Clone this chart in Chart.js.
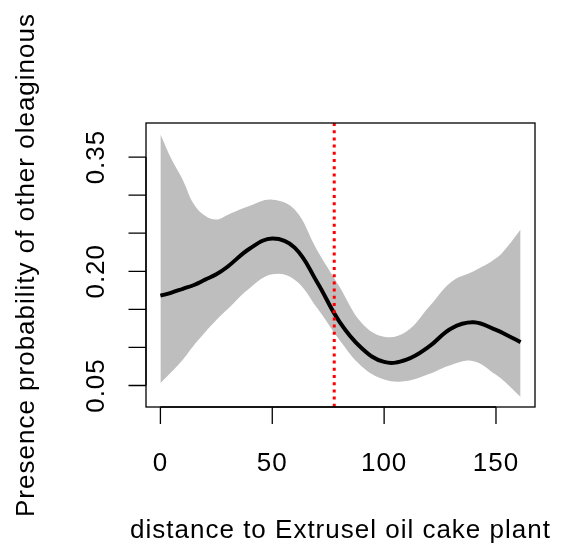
<!DOCTYPE html>
<html>
<head>
<meta charset="utf-8">
<script src="https://cdn.jsdelivr.net/npm/chart.js@4"></script>
<style>
  html, body { margin: 0; padding: 0; background: #fff; }
  #wrap { width: 561px; height: 547px; }
</style>
</head>
<body>
<div id="wrap"><canvas id="gamChart" width="561" height="547"></canvas></div>
<script>
// arvot luettu kuvasta
const distance = [0, 5, 10, 15, 20, 25, 30, 40, 50, 60, 70, 80, 90, 100, 110, 120, 130, 140, 150, 155, 161];
const fit   = [0.168, 0.172, 0.177, 0.182, 0.189, 0.196, 0.206, 0.230, 0.243, 0.231, 0.186, 0.134, 0.099, 0.081, 0.084, 0.101, 0.125, 0.133, 0.123, 0.116, 0.107];
const upper = [0.380, 0.347, 0.320, 0.288, 0.273, 0.268, 0.274, 0.286, 0.294, 0.281, 0.228, 0.180, 0.132, 0.114, 0.121, 0.153, 0.186, 0.200, 0.217, 0.232, 0.255];
const lower = [0.053, 0.068, 0.084, 0.103, 0.120, 0.136, 0.150, 0.178, 0.196, 0.189, 0.152, 0.110, 0.075, 0.058, 0.056, 0.065, 0.077, 0.082, 0.064, 0.052, 0.035];
const cutoff = 77.7;

const xTicks = [0, 50, 100, 150];
const yTicks = [0.05, 0.10, 0.15, 0.20, 0.25, 0.30, 0.35];
const yTickLabels = ['0.05', '', '', '0.20', '', '', '0.35'];
const xLim = [-6.44, 167.44];
const yLim = [0.0218, 0.3947];
const xTitle = 'distance to Extrusel oil cake plant';
const yTitle = 'Presence probability of other oleaginous';

const pts = ys => distance.map((d, i) => ({ x: d, y: ys[i] }));
const FONT = '26px "Liberation Sans", Arial, Helvetica, sans-serif';

// R-tyylinen laatikko ja akselit
const rAxes = {
  id: 'rAxes',
  afterDraw(chart) {
    const { ctx, chartArea: a, scales: { x, y } } = chart;
    ctx.save();
    ctx.strokeStyle = '#000';
    ctx.lineWidth = 1.3;
    ctx.strokeRect(a.left, a.top, a.right - a.left, a.bottom - a.top);

    ctx.beginPath();
    ctx.moveTo(x.getPixelForValue(xTicks[0]), a.bottom);
    ctx.lineTo(x.getPixelForValue(xTicks[xTicks.length - 1]), a.bottom);
    xTicks.forEach(v => {
      const px = x.getPixelForValue(v);
      ctx.moveTo(px, a.bottom);
      ctx.lineTo(px, a.bottom + 17);
    });
    ctx.moveTo(a.left, y.getPixelForValue(yTicks[0]));
    ctx.lineTo(a.left, y.getPixelForValue(yTicks[yTicks.length - 1]));
    yTicks.forEach(v => {
      const py = y.getPixelForValue(v);
      ctx.moveTo(a.left, py);
      ctx.lineTo(a.left - 17.5, py);
    });
    ctx.stroke();

    ctx.fillStyle = '#000';
    ctx.font = FONT;
    ctx.letterSpacing = '1px';
    ctx.textAlign = 'center';
    ctx.textBaseline = 'alphabetic';
    xTicks.forEach(v => {
      ctx.fillText(String(v), x.getPixelForValue(v), 470.5);
    });
    ctx.fillText(xTitle, (a.left + a.right) / 2, 538);

    yTicks.forEach((v, i) => {
      if (!yTickLabels[i]) return;
      ctx.save();
      ctx.translate(103.5, y.getPixelForValue(v));
      ctx.rotate(-Math.PI / 2);
      ctx.fillText(yTickLabels[i], 0, 0);
      ctx.restore();
    });
    ctx.save();
    ctx.translate(34, (a.top + a.bottom) / 2);
    ctx.rotate(-Math.PI / 2);
    ctx.fillText(yTitle, 0, 0);
    ctx.restore();
    ctx.restore();
  }
};

const ctx = document.getElementById('gamChart').getContext('2d');
new Chart(ctx, {
  type: 'line',
  data: {
    datasets: [
      {
        label: 'upper',
        data: pts(upper),
        borderWidth: 0,
        borderColor: 'rgba(0,0,0,0)',
        backgroundColor: '#BEBEBE',
        fill: '+1',
        order: 3
      },
      {
        label: 'lower',
        data: pts(lower),
        borderWidth: 0,
        borderColor: 'rgba(0,0,0,0)',
        fill: false,
        order: 3
      },
      {
        label: 'fit',
        data: pts(fit),
        borderColor: '#000',
        borderWidth: 4,
        fill: false,
        order: 1
      },
      {
        label: 'cutoff',
        data: [{ x: cutoff, y: yLim[1] }, { x: cutoff, y: yLim[0] }],
        borderColor: '#FF0000',
        borderWidth: 3,
        borderDash: [3, 4.2],
        fill: false,
        tension: 0,
        order: 0
      }
    ]
  },
  options: {
    responsive: false,
    animation: false,
    layout: { padding: { left: 146, right: 26, top: 123, bottom: 140 } },
    elements: {
      point: { radius: 0 },
      line: { tension: 0.4 }
    },
    plugins: {
      legend: { display: false },
      tooltip: { enabled: false },
      filler: { propagate: false }
    },
    scales: {
      x: { type: 'linear', min: xLim[0], max: xLim[1], display: false },
      y: { type: 'linear', min: yLim[0], max: yLim[1], display: false }
    }
  },
  plugins: [rAxes]
});
</script>
</body>
</html>
